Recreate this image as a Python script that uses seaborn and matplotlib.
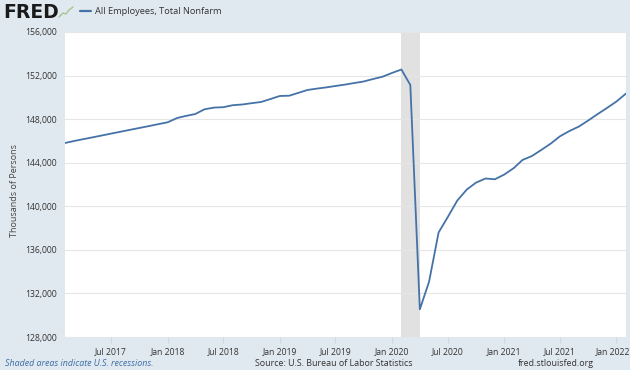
import matplotlib.pyplot as plt
import matplotlib.transforms as mtransforms
import pandas as pd
import seaborn as sns
from matplotlib.lines import Line2D

# All Employees, Total Nonfarm (thousands of persons), monthly from Feb 2017
start_month = "2017-02-01"
employees = [
    145810, 145985, 146160, 146325, 146500, 146673, 146847, 147022, 147190, 147362,
    147536, 147710, 148105, 148290, 148470, 148904, 149060, 149096, 149280, 149345,
    149464, 149574, 149840, 150125, 150152, 150400, 150676, 150800, 150914, 151043,
    151170, 151318, 151456, 151686, 151890, 152236, 152558, 151135, 130543, 133080,
    137594, 139017, 140532, 141542, 142175, 142550, 142478, 142918, 143515, 144250,
    144617, 145168, 145755, 146425, 146912, 147325, 147876, 148470, 149023, 149620,
    150350,
]
recession_start = "2020-02-01"
recession_end = "2020-04-01"
tick_months = ["2017-07-01", "2018-01-01", "2018-07-01", "2019-01-01", "2019-07-01",
               "2020-01-01", "2020-07-01", "2021-01-01", "2021-07-01", "2022-01-01"]
tick_labels = ["Jul 2017", "Jan 2018", "Jul 2018", "Jan 2019", "Jul 2019",
               "Jan 2020", "Jul 2020", "Jan 2021", "Jul 2021", "Jan 2022"]
y_ticks = [128000, 132000, 136000, 140000, 144000, 148000, 152000, 156000]


def main():
    sns.set_theme(style="white")
    plt.rcParams["font.family"] = ["Open Sans", "DejaVu Sans"]

    bg = "#e1e9f0"
    line_color = "#4572a7"
    text_color = "#333333"

    df = pd.DataFrame({
        "date": pd.date_range(start_month, periods=len(employees), freq="MS"),
        "value": employees,
    })

    fig = plt.figure(figsize=(6.3, 3.7), dpi=100, facecolor=bg)
    ax = fig.add_axes([65 / 630, 33 / 370, 561 / 630, 305 / 370])
    ax.set_facecolor("white")

    ax.axvspan(pd.Timestamp(recession_start), pd.Timestamp(recession_end),
               color="#e1e1e1", lw=0, zorder=0)
    sns.lineplot(data=df, x="date", y="value", color=line_color,
                 linewidth=1.3, ax=ax, zorder=3)

    ax.set_xlim(df["date"].iloc[0], df["date"].iloc[-1])
    ax.set_ylim(y_ticks[0], y_ticks[-1])
    ax.set_yticks(y_ticks)
    ax.set_yticklabels([f"{v:,}" for v in y_ticks])
    ax.set_xticks(pd.to_datetime(tick_months))
    ax.set_xticklabels(tick_labels)

    ax.grid(axis="y", color="#e6e6e6", linewidth=0.8)
    ax.grid(axis="x", visible=False)
    for s in ax.spines.values():
        s.set_visible(False)

    ax.tick_params(axis="y", length=0, pad=6, labelsize=6.2, labelcolor=text_color)
    ax.tick_params(axis="x", length=4, width=0.8, color="#cfd8e0", pad=3,
                   labelsize=6.2, labelcolor=text_color, bottom=True)
    # nudge the last date label so it stays inside the figure
    last = ax.get_xticklabels()[-1]
    last.set_transform(last.get_transform() +
                       mtransforms.ScaledTranslation(-3 / 100, 0, fig.dpi_scale_trans))

    ax.set_xlabel("")
    ax.set_ylabel("Thousands of Persons", fontsize=6.5, color="#444444")
    ax.yaxis.set_label_coords(-46 / 561, 0.48)

    # header
    fig.text(3 / 630, 1 - 12 / 370, "FRED", fontsize=13.5, fontweight="heavy",
             family="DejaVu Sans", color="#1a1a1a", va="center", ha="left")
    fig.add_artist(Line2D([x / 630 for x in (59, 63, 66, 69, 73)],
                          [1 - y / 370 for y in (17, 13, 14, 10, 7)],
                          color="#a8c48e", lw=1.0))
    fig.add_artist(Line2D([80 / 630, 91 / 630], [1 - 11 / 370] * 2,
                          color=line_color, lw=1.6))
    fig.text(95 / 630, 1 - 11 / 370, "All Employees, Total Nonfarm", fontsize=6.7,
             color=text_color, va="center", ha="left")

    # footer
    fig.text(5 / 630, 1 - 363 / 370, "Shaded areas indicate U.S. recessions.",
             fontsize=6.4, style="italic", color="#3d6da6", va="center", ha="left")
    fig.text(255 / 630, 1 - 363 / 370, "Source: U.S. Bureau of Labor Statistics",
             fontsize=6.4, color=text_color, va="center", ha="left")
    fig.text(518 / 630, 1 - 363 / 370, "fred.stlouisfed.org",
             fontsize=6.4, color=text_color, va="center", ha="left")

    fig.savefig("out.png", dpi=100, facecolor=bg)
    plt.close(fig)


if __name__ == "__main__":
    main()
